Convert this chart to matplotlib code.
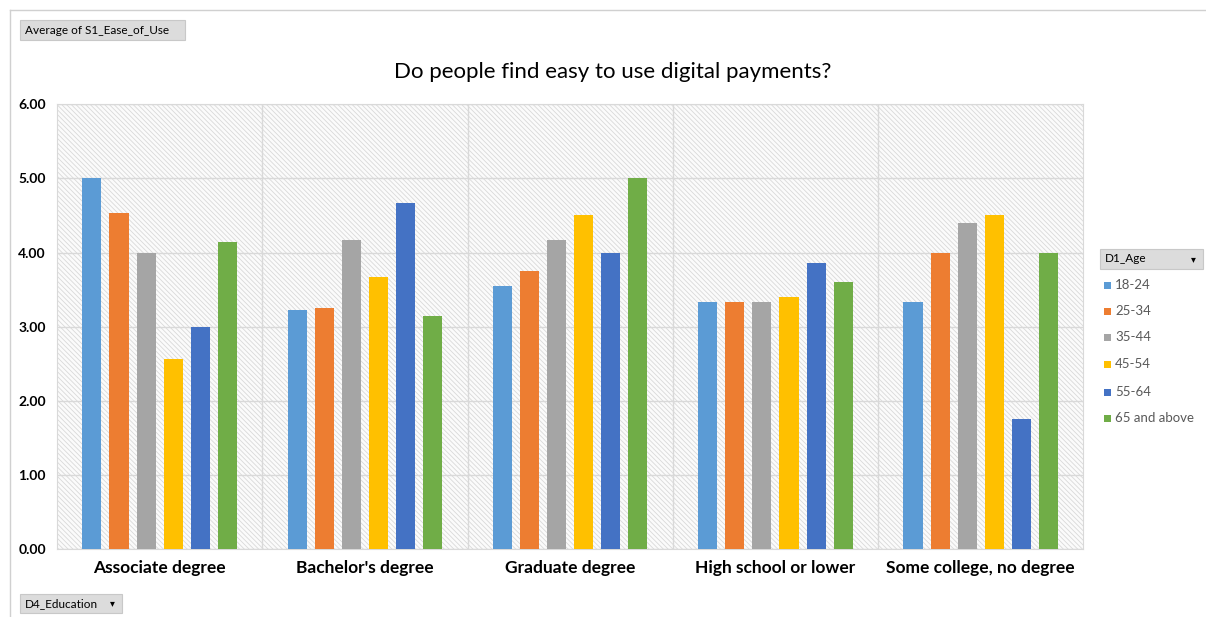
import numpy as np
import matplotlib.pyplot as plt
from matplotlib.patches import Rectangle

# average ease-of-use score by education level and age group
education = ["Associate degree", "Bachelor's degree", "Graduate degree",
             "High school or lower", "Some college, no degree"]
age_groups = ["18-24", "25-34", "35-44", "45-54", "55-64", "65 and above"]
age_18_24 = [5.00, 3.22, 3.55, 3.33, 3.33]
age_25_34 = [4.54, 3.25, 3.75, 3.33, 4.00]
age_35_44 = [4.00, 4.17, 4.17, 3.33, 4.40]
age_45_54 = [2.57, 3.67, 4.50, 3.40, 4.50]
age_55_64 = [3.00, 4.67, 4.00, 3.86, 1.75]
age_65_up = [4.14, 3.14, 5.00, 3.60, 4.00]
colors = ["#5b9bd5", "#ed7d31", "#a5a5a5", "#ffc000", "#4472c4", "#70ad47"]

series = [age_18_24, age_25_34, age_35_44, age_45_54, age_55_64, age_65_up]

plt.rcParams['font.family'] = ['Lato', 'DejaVu Sans']
plt.rcParams['hatch.linewidth'] = 0.6
plt.rcParams['hatch.color'] = '#d9d9d9'

fig = plt.figure(figsize=(12.06, 6.17), dpi=100)
ax = fig.add_axes([0.0473, 0.110, 0.851, 0.721])

# hatched plot background
ax.set_facecolor('white')
ax.add_patch(Rectangle((0, 0), 1, 1, transform=ax.transAxes, facecolor='#fbfbfb',
                       edgecolor='#d9d9d9', hatch='\\\\\\\\\\\\\\', lw=0, zorder=0))

x = np.arange(len(education))
step = 0.132
width = 0.093
for i, (vals, c) in enumerate(zip(series, colors)):
    ax.bar(x + (i - 2.5) * step, vals, width, color=c, zorder=3, label=age_groups[i])

ax.set_xlim(-0.5, len(education) - 0.5)
ax.set_ylim(0, 6)
ax.set_yticks(np.arange(0, 7, 1))
ax.set_yticklabels([f"{v:.2f}" for v in range(7)], fontsize=10, fontweight='bold')
ax.set_xticks(x)
ax.set_xticklabels(education, fontsize=12.5, fontweight='bold')
ax.tick_params(length=0, pad=8)
ax.tick_params(axis='y', pad=8)

ax.grid(axis='y', color='#d9d9d9', lw=1, zorder=1)
for b in np.arange(0.5, len(education) - 0.5, 1):
    ax.axvline(b, color='#d9d9d9', lw=1, zorder=1)
for s in ax.spines.values():
    s.set_color('#d9d9d9')

fig.text(0.508, 0.883, "Do people find easy to use digital payments?",
         ha='center', va='center', fontsize=16)

# pivot field buttons
def button(x0, y0, w, h, text, arrow=False):
    fig.patches.append(Rectangle((x0 / 1206, 1 - (y0 + h) / 617), w / 1206, h / 617,
                                 transform=fig.transFigure, facecolor='#dcdcdc',
                                 edgecolor='#c8c8c8', lw=0.8))
    fig.text((x0 + 5) / 1206, 1 - (y0 + h / 2) / 617, text, fontsize=8.5,
             va='center', ha='left')
    if arrow:
        fig.text((x0 + w - 10) / 1206, 1 - (y0 + h / 2) / 617, "▾", fontsize=7,
                 va='center', ha='center', family='DejaVu Sans')

button(20, 20, 165, 20, "Average of S1_Ease_of_Use")
button(20, 594, 102, 19, "D4_Education", arrow=True)
button(1100, 249, 103, 20, "D1_Age", arrow=True)

# legend entries
leg_y = [285, 311, 337, 364, 392, 418]
for ly, c, lab in zip(leg_y, colors, age_groups):
    fig.patches.append(Rectangle((1104 / 1206, 1 - (ly + 3.5) / 617), 7 / 1206, 7 / 617,
                                 transform=fig.transFigure, facecolor=c, lw=0))
    fig.text(1115 / 1206, 1 - ly / 617, lab, fontsize=9.5, color='#595959',
             va='center', ha='left')

# outer frame lines
fig.add_artist(plt.Line2D([10 / 1206, 1], [1 - 10 / 617, 1 - 10 / 617],
                          transform=fig.transFigure, color='#d0d0d0', lw=1))
fig.add_artist(plt.Line2D([10 / 1206, 10 / 1206], [0, 1 - 10 / 617],
                          transform=fig.transFigure, color='#d0d0d0', lw=1))

fig.savefig("out.png", dpi=100)
